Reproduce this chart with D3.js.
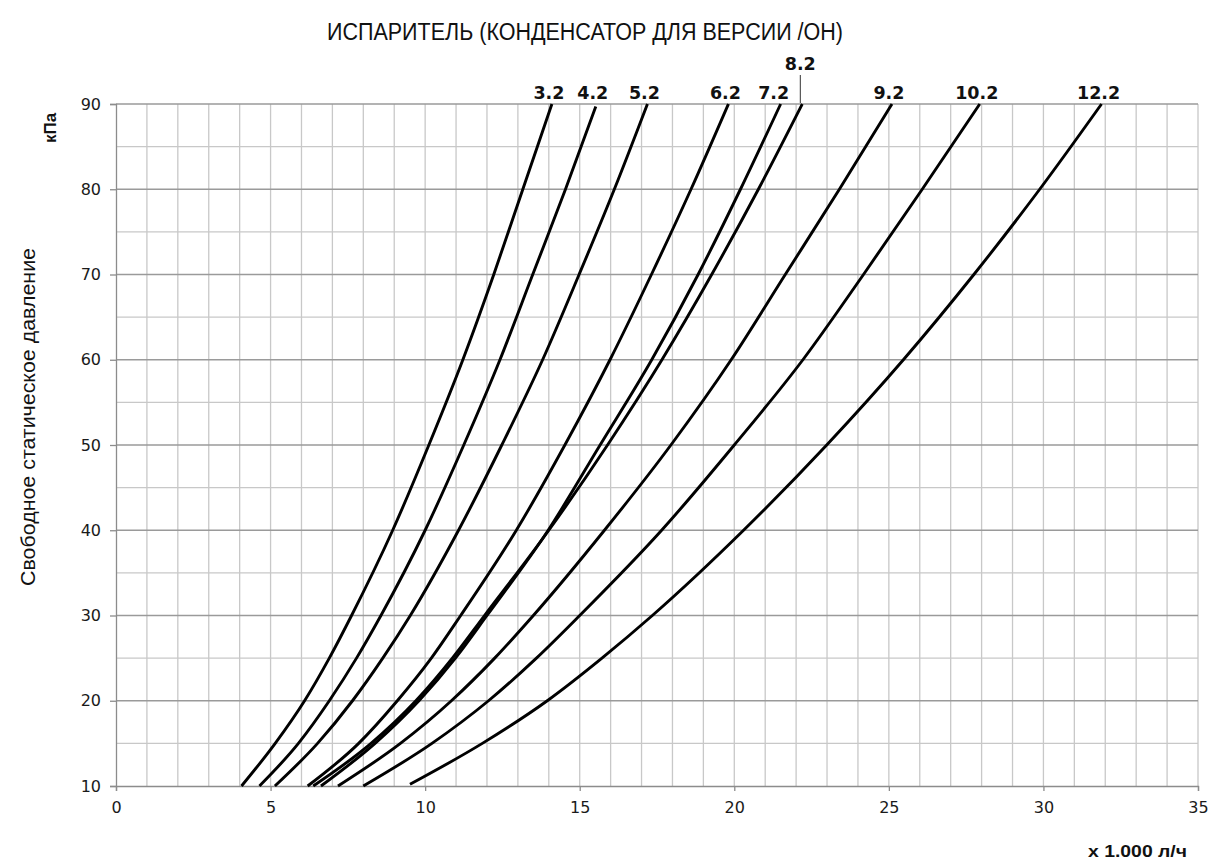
<!DOCTYPE html>
<html>
<head>
<meta charset="utf-8">
<script src="https://cdn.jsdelivr.net/npm/d3@7"></script>
<style>
  html, body { margin: 0; padding: 0; background: #fff; }
  svg { display: block; }
</style>
</head>
<body>
<svg id="chart" width="1211" height="865"></svg>
<script>
// ---- data ----
const pressureLevels    = [10, 15, 20, 25, 30, 40, 50, 60, 70, 80, 90];
const pressureLevels42  = [10, 15, 20, 25, 30, 40, 50, 60, 70, 80, 89.7];
const pressureLevels122 = [10.2, 15, 20, 25, 30, 40, 50, 60, 70, 80, 90];

const flow32  = [4.06, 5.15, 6.10, 6.90, 7.62, 8.95, 10.12, 11.22, 12.22, 13.16, 14.10];
const flow42  = [4.64, 5.90, 6.90, 7.78, 8.57, 10.00, 11.25, 12.42, 13.48, 14.54, 15.52];
const flow52  = [5.14, 6.52, 7.65, 8.63, 9.52, 11.08, 12.48, 13.80, 14.98, 16.12, 17.19];
const flow62  = [6.20, 7.85, 9.10, 10.20, 11.15, 12.95, 14.52, 15.98, 17.32, 18.60, 19.81];
const flow72  = [6.63, 8.38, 9.80, 10.98, 12.00, 13.98, 15.66, 17.33, 18.83, 20.20, 21.50];
const flow82  = [6.38, 8.25, 9.70, 10.88, 11.92, 14.00, 15.90, 17.66, 19.27, 20.78, 22.20];
const flow92  = [7.18, 9.20, 10.85, 12.25, 13.50, 15.80, 17.95, 19.90, 21.65, 23.40, 25.10];
const flow102 = [8.00, 10.22, 12.05, 13.60, 15.00, 17.65, 20.00, 22.22, 24.18, 26.08, 27.94];
const flow122 = [9.51, 11.85, 13.95, 15.72, 17.35, 20.30, 22.99, 25.47, 27.75, 29.88, 31.88];

const seriesNames = ["3.2", "4.2", "5.2", "6.2", "7.2", "8.2", "9.2", "10.2", "12.2"];
const seriesFlows = [flow32, flow42, flow52, flow62, flow72, flow82, flow92, flow102, flow122];
const seriesPressures = [pressureLevels, pressureLevels42, pressureLevels, pressureLevels,
                         pressureLevels, pressureLevels, pressureLevels, pressureLevels, pressureLevels122];

const xTicks = [0, 5, 10, 15, 20, 25, 30, 35];
const yTicks = [10, 20, 30, 40, 50, 60, 70, 80, 90];

const titleText  = "ИСПАРИТЕЛЬ (КОНДЕНСАТОР ДЛЯ ВЕРСИИ /ОН)";
const yTitleText = "Свободное статическое давление";
const yUnitText  = "кПа";
const xUnitText  = "x 1.000 л/ч";

(function draw() {
  const svg = d3.select("#chart");
  const pL = 116, pR = 1198, pT = 104, pB = 786;

  const x = d3.scaleLinear().domain([0, 35]).range([pL, pR]);
  const y = d3.scaleLinear().domain([10, 90]).range([pB, pT]);

  // grid
  const grid = svg.append("g");
  grid.selectAll("line.vg")
    .data(d3.range(1, 36))
    .join("line")
    .attr("x1", d => x(d)).attr("x2", d => x(d))
    .attr("y1", y(10)).attr("y2", y(90))
    .attr("stroke", "#c8c8c8").attr("stroke-width", 1.3);
  grid.selectAll("line.hg")
    .data(d3.range(15, 91, 5))
    .join("line")
    .attr("x1", x(0)).attr("x2", x(35))
    .attr("y1", d => y(d)).attr("y2", d => y(d))
    .attr("stroke", d => (d % 10 === 0 ? "#9a9a9a" : "#c8c8c8"))
    .attr("stroke-width", 1.3);

  // axes
  const fontTick = "'DejaVu Sans', Verdana, sans-serif";
  const xAxis = svg.append("g")
    .attr("transform", `translate(0,${pB})`)
    .call(d3.axisBottom(x).tickValues(xTicks).tickSize(5).tickPadding(11).tickFormat(d3.format("d")));
  const yAxis = svg.append("g")
    .attr("transform", `translate(${pL},0)`)
    .call(d3.axisLeft(y).tickValues(yTicks).tickSize(6).tickPadding(9).tickFormat(d3.format("d")));
  [xAxis, yAxis].forEach(a => {
    a.select(".domain").attr("stroke", "#8c8c8c").attr("stroke-width", 1.3);
    a.selectAll(".tick line").attr("stroke", "#8c8c8c").attr("stroke-width", 1.3);
    a.selectAll(".tick text")
      .attr("font-family", fontTick).attr("font-size", 16).attr("fill", "#1a1a1a");
  });

  // curves
  const line = d3.line()
    .x(d => x(d[0]))
    .y(d => y(d[1]))
    .curve(d3.curveMonotoneX);

  const series = seriesNames.map((name, i) => ({
    name,
    points: seriesFlows[i].map((f, j) => [f, seriesPressures[i][j]])
  }));

  svg.append("g").selectAll("path")
    .data(series)
    .join("path")
    .attr("d", d => line(d.points))
    .attr("fill", "none")
    .attr("stroke", "#000")
    .attr("stroke-width", 2.9)
    .attr("stroke-linecap", "butt");

  // curve labels
  const labelG = svg.append("g")
    .attr("font-family", fontTick)
    .attr("font-weight", "bold")
    .attr("font-size", 17.5)
    .attr("fill", "#111")
    .attr("text-anchor", "middle");
  series.forEach(s => {
    const last = s.points[s.points.length - 1];
    const lx = x(last[0]) - 3;
    if (s.name === "8.2") {
      labelG.append("text").attr("x", x(last[0]) - 2).attr("y", 70).text(s.name);
      svg.append("line")
        .attr("x1", x(last[0]) - 2).attr("x2", x(last[0]) - 2)
        .attr("y1", 75).attr("y2", y(90) - 1)
        .attr("stroke", "#333").attr("stroke-width", 1);
    } else {
      labelG.append("text").attr("x", s.name === "7.2" ? lx - 4 : lx).attr("y", 98.5).text(s.name);
    }
  });

  // titles
  const narrow = "'Liberation Sans Narrow', 'Arial Narrow', 'Liberation Sans', Arial, sans-serif";
  svg.append("text")
    .attr("x", 585).attr("y", 40)
    .attr("text-anchor", "middle")
    .attr("font-family", narrow).attr("font-size", 23).attr("fill", "#111")
    .attr("textLength", 516).attr("lengthAdjust", "spacingAndGlyphs")
    .text(titleText);

  svg.append("text")
    .attr("transform", "translate(35,417) rotate(-90)")
    .attr("text-anchor", "middle")
    .attr("font-family", narrow).attr("font-size", 21).attr("fill", "#111")
    .attr("textLength", 338).attr("lengthAdjust", "spacingAndGlyphs")
    .text(yTitleText);

  svg.append("text")
    .attr("transform", "translate(56,128) rotate(-90)")
    .attr("text-anchor", "middle")
    .attr("font-family", "'Liberation Sans', Arial, sans-serif")
    .attr("font-weight", "bold").attr("font-size", 17).attr("fill", "#111")
    .text(yUnitText);

  svg.append("text")
    .attr("x", 1187).attr("y", 857)
    .attr("text-anchor", "end")
    .attr("font-family", "'Liberation Sans', Arial, sans-serif")
    .attr("font-weight", "bold").attr("font-size", 17).attr("fill", "#111")
    .attr("textLength", 99).attr("lengthAdjust", "spacingAndGlyphs")
    .text(xUnitText);
})();
</script>
</body>
</html>
